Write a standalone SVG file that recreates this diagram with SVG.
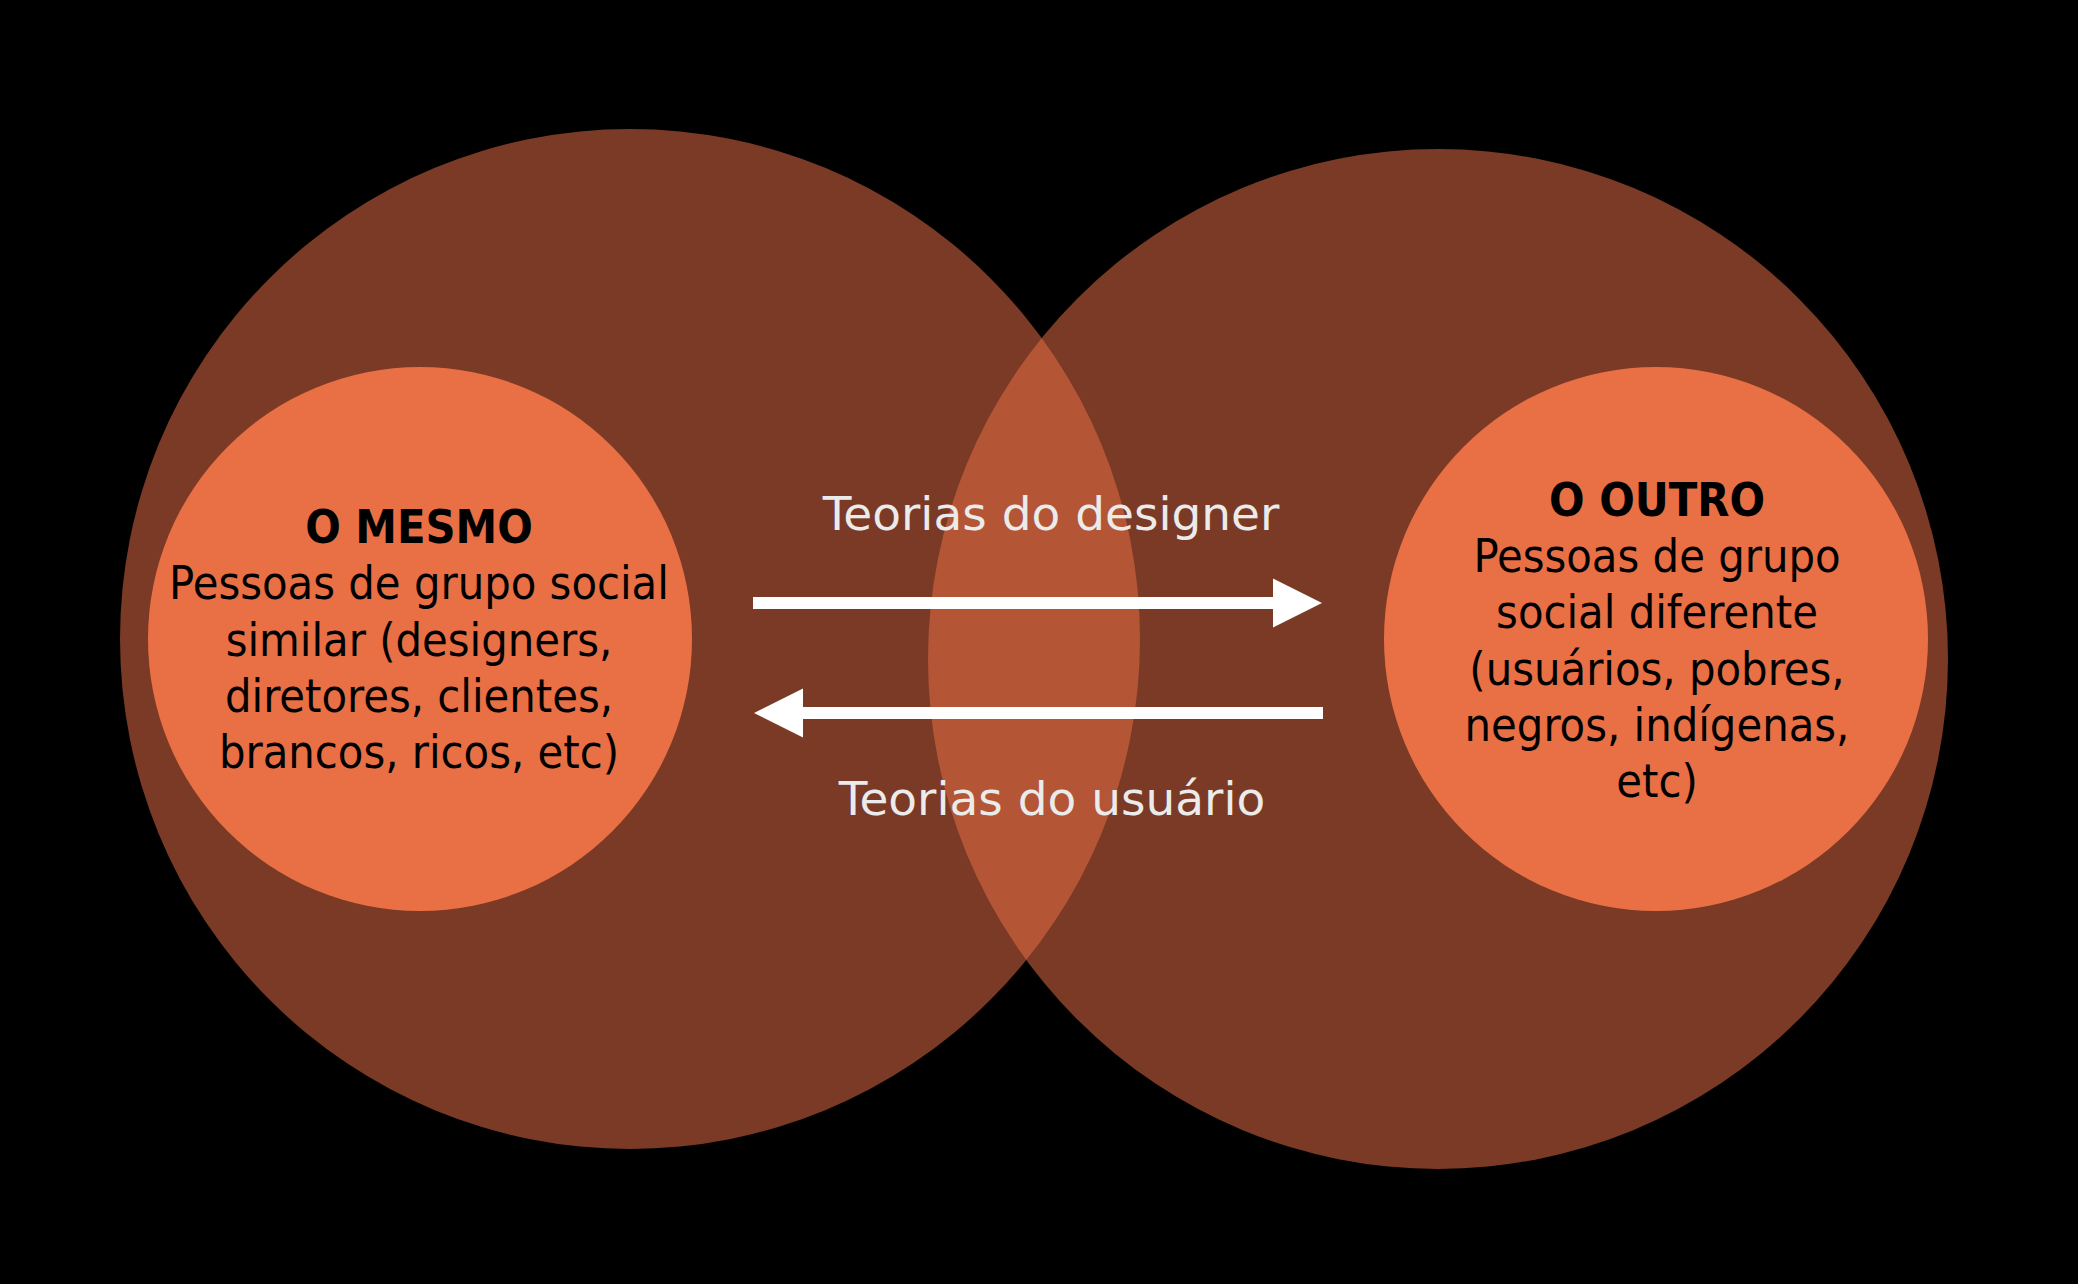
<svg xmlns="http://www.w3.org/2000/svg" width="2078" height="1284" viewBox="0 0 2078 1284">
<style>
.big{fill:#E96F47;fill-opacity:0.52}
.inner{fill:#E96F45}
.lbl{font-family:"DejaVu Sans Condensed","DejaVu Sans",sans-serif;font-stretch:condensed;font-size:46.5px;fill:#000;text-anchor:middle}
.b{font-weight:bold}
.arrowtxt{font-family:"DejaVu Sans",sans-serif;font-size:47px;fill:#EBEBEB;text-anchor:middle}
.shaft{stroke:#FFFFFF;stroke-width:12;fill:none}
.head{fill:#FFFFFF}
</style>
<rect width="2078" height="1284" fill="#000"/>
<g id="circle-mesmo-outer"><circle class="big" cx="630" cy="639" r="510"/></g>
<g id="circle-outro-outer"><circle class="big" cx="1438" cy="659" r="510"/></g>
<g id="node-mesmo">
<circle class="inner" cx="420" cy="639" r="272"/>
<text class="lbl"><tspan class="b" x="419" y="543">O MESMO</tspan><tspan x="419" y="599">Pessoas de grupo social</tspan><tspan x="419" y="656">similar (designers,</tspan><tspan x="419" y="712">diretores, clientes,</tspan><tspan x="419" y="768">brancos, ricos, etc)</tspan></text>
</g>
<g id="node-outro">
<circle class="inner" cx="1656" cy="639" r="272"/>
<text class="lbl"><tspan class="b" x="1657" y="516">O OUTRO</tspan><tspan x="1657" y="572">Pessoas de grupo</tspan><tspan x="1657" y="628">social diferente</tspan><tspan x="1657" y="685">(usuários, pobres,</tspan><tspan x="1657" y="741">negros, indígenas,</tspan><tspan x="1657" y="797">etc)</tspan></text>
</g>
<g id="connectors">
<line class="shaft" x1="753" y1="603" x2="1276" y2="603"/>
<polygon class="head" points="1273,578.5 1322,603 1273,627.5"/>
<text class="arrowtxt" x="1051" y="530">Teorias do designer</text>
<line class="shaft" x1="1323" y1="713" x2="800" y2="713"/>
<polygon class="head" points="803,688.5 754,713 803,737.5"/>
<text class="arrowtxt" x="1052" y="815">Teorias do usuário</text>
</g>
</svg>
